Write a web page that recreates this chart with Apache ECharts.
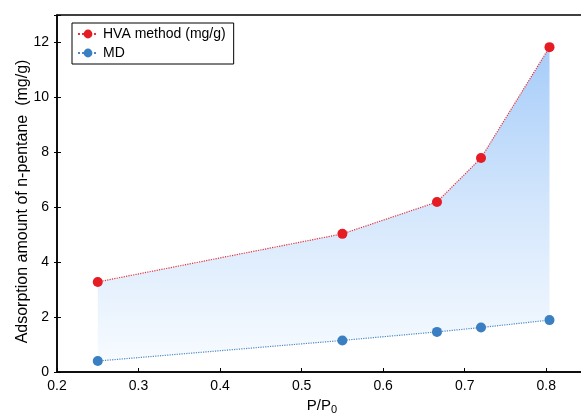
<!DOCTYPE html>
<html>
<head>
<meta charset="utf-8">
<script src="https://cdn.jsdelivr.net/npm/echarts@6/dist/echarts.min.js"></script>
<style>
    html, body { margin: 0; padding: 0; background: #fff; }
    #chart { width: 581px; height: 414px; }
</style>
</head>
<body>
<div id="chart"></div>
<script>
    // P/P0 values and the two adsorption series
    var pressure = [0.25, 0.55, 0.666, 0.72, 0.804];
    var hva = [3.28, 5.03, 6.19, 7.79, 11.83];
    var md = [0.4, 1.15, 1.46, 1.62, 1.89];
    var xTicks = [0.2, 0.3, 0.4, 0.5, 0.6, 0.7, 0.8];
    var yTicks = [0, 2, 4, 6, 8, 10, 12];

    var font = 'Liberation Sans, Arial, sans-serif';

    function pairs (ys) {
        return pressure.map(function (x, i) { return [x, ys[i]]; });
    }

    // shaded band between the two curves
    function renderBand (params, api) {
        var pts = [];
        pressure.forEach(function (x, i) { pts.push(api.coord([x, hva[i]])); });
        for (var i = pressure.length - 1; i >= 0; i--) {
            pts.push(api.coord([pressure[i], md[i]]));
        }
        return {
            type: 'polygon',
            shape: { points: pts },
            style: {
                fill: new echarts.graphic.LinearGradient(0, 0, 0, 1, [
                    { offset: 0, color: '#a6ccf9' },
                    { offset: 0.5, color: '#d3e6fc' },
                    { offset: 1, color: '#f7fbff' }
                ])
            }
        };
    }

    var chart = echarts.init(document.getElementById('chart'), null, { renderer: 'canvas' });
    chart.setOption({
        animation: false,
        grid: {
            left: 57,
            right: -6,
            top: 15,
            bottom: 42,
            outerBoundsMode: 'none',
            containLabel: false,
            show: true,
            borderColor: '#000',
            borderWidth: 1.5,
            backgroundColor: 'transparent'
        },
        legend: {
            orient: 'vertical',
            left: 72,
            top: 23,
            padding: [4, 8, 4, 5],
            itemGap: 5,
            itemWidth: 20,
            itemHeight: 11,
            borderColor: '#000',
            borderWidth: 1,
            textStyle: { fontFamily: font, fontSize: 14, color: '#000' },
            data: ['HVA method (mg/g)', 'MD']
        },
        xAxis: {
            type: 'value',
            min: 0.2,
            max: 0.85,
            interval: 0.1,
            name: 'P/P{sub|0}',
            nameLocation: 'middle',
            nameGap: 22,
            nameTextStyle: {
                fontFamily: font, fontSize: 15, color: '#000',
                rich: { sub: { fontFamily: font, fontSize: 11, color: '#000', verticalAlign: 'bottom', padding: [9, 0, 0, 0] } }
            },
            axisLine: { lineStyle: { color: '#000', width: 1.5 } },
            axisTick: { inside: true, length: 4, lineStyle: { color: '#000' } },
            axisLabel: {
                fontFamily: font, fontSize: 14, color: '#000', margin: 7,
                formatter: function (v) {
                    return xTicks.indexOf(Math.round(v * 10) / 10) >= 0 ? v.toFixed(1) : '';
                }
            },
            splitLine: { show: false }
        },
        yAxis: [{
            type: 'value',
            min: 0,
            max: 13,
            interval: 2,
            name: 'Adsorption amount of n-pentane  (mg/g)',
            nameLocation: 'middle',
            nameGap: 26,
            nameMoveOverlap: false,
            nameTextStyle: { fontFamily: font, fontSize: 16, color: '#000', padding: [0, 16, 0, 0] },
            axisLine: { lineStyle: { color: '#000', width: 1.5 } },
            axisTick: { inside: true, length: 4, lineStyle: { color: '#000' } },
            axisLabel: {
                fontFamily: font, fontSize: 14, color: '#000', margin: 8,
                formatter: function (v) { return yTicks.indexOf(v) >= 0 ? String(v) : ''; }
            },
            splitLine: { show: false }
        }, {
            type: 'value',
            position: 'left',
            min: 0,
            max: 13,
            interval: 2,
            axisLine: { show: false },
            axisTick: { length: 3, lineStyle: { color: '#000' } },
            axisLabel: { show: false },
            splitLine: { show: false }
        }],
        series: [
            {
                name: 'band',
                type: 'custom',
                renderItem: renderBand,
                data: [0],
                silent: true,
                z: 1
            },
            {
                name: 'HVA method (mg/g)',
                type: 'line',
                data: pairs(hva),
                symbol: 'circle',
                symbolSize: 10,
                itemStyle: { color: '#e51c23' },
                lineStyle: { color: '#e8323a', width: 1.2, type: 'dotted' },
                z: 3
            },
            {
                name: 'MD',
                type: 'line',
                data: pairs(md),
                symbol: 'circle',
                symbolSize: 10,
                itemStyle: { color: '#3a7fc1' },
                lineStyle: { color: '#4a89c6', width: 1.2, type: 'dotted' },
                z: 3
            }
        ]
    });
</script>
</body>
</html>
